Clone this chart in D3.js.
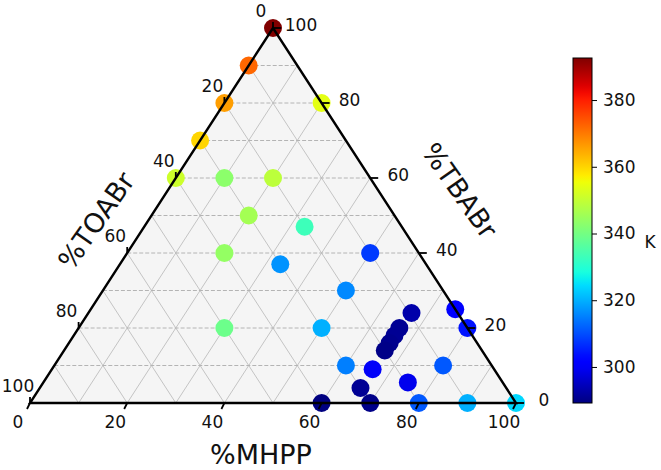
<!DOCTYPE html>
<html><head><meta charset="utf-8">
<script src="https://cdn.jsdelivr.net/npm/d3@7"></script>
<style>body{margin:0;background:#fff}svg{display:block}text{font-family:"DejaVu Sans",sans-serif;fill:#111}</style>
</head><body><svg id="c" width="661" height="470"></svg>
<script>
// ---- data ----
const mhpp  = [0,0,0,0,0,10,20,20,20,33,20,33,50,50,30,50,60,60,70,66,66,75,80,90,100,80,75,80,66.5,66,66,66,66];
const tbabr = [100,90,80,70,60,60,60,50,80,47,40,37,40,30,20,20,10,0,0,4,9,5.5,0,0,0,10,25,20,24,20,18,16,14];
const toabr = [0,10,20,30,40,30,20,30,0,20,40,30,10,20,50,30,30,40,30,30,25,19.5,20,10,0,10,0,0,9.5,14,16,18,20];
const temps = [392.6,372,366,360,351,343,349,346,354,333,344,317,308,316,339,320,315,289.2,290,291,300,299,311,320,324,311,301,304,293,291,291,290.5,290];
const axisTicks = [0,20,40,60,80,100];
const cbTicks = [300,320,340,360,380];
const cbDomain = [289.2, 392.6];

// ---- layout ----
const svg = d3.select("#c");
const xL=30, xR=516, yB=403, yT=28;
const xs = d3.scaleLinear().domain([0,100]).range([xL,xR]);
const ys = d3.scaleLinear().domain([0,100]).range([yB,yT]);
const P = (a,b)=>[xs(a+b/2), ys(b)];

// jet colormap
const jr = d3.scaleLinear().domain([0,0.35,0.66,0.89,1]).range([0,0,1,1,0.5]).clamp(true);
const jg = d3.scaleLinear().domain([0,0.125,0.375,0.64,0.91,1]).range([0,0,1,1,0,0]).clamp(true);
const jb = d3.scaleLinear().domain([0,0.11,0.34,0.65,1]).range([0.5,1,1,0,0]).clamp(true);
const norm = d3.scaleLinear().domain(cbDomain).range([0,1]).clamp(true);
const jet = t => d3.rgb(jr(t)*255, jg(t)*255, jb(t)*255).formatHex();
const color = v => jet(norm(v));

// triangle background
const tri = [P(0,0),P(100,0),P(0,100)];
svg.append("polygon").attr("points",tri.map(p=>p.join(",")).join(" ")).attr("fill","#f5f5f5");

// grid
const g = svg.append("g");
const line = (p,q)=>g.append("line").attr("x1",p[0]).attr("y1",p[1]).attr("x2",q[0]).attr("y2",q[1]);
for(let v=10; v<100; v+=10){
  line(P(v,0),P(v,100-v)).attr("stroke","#c4c4c4").attr("stroke-width",1);
  line(P(100-v,0),P(0,100-v)).attr("stroke","#c4c4c4").attr("stroke-width",1);
}
for(let v=10; v<100; v+=10){
  line(P(0,v),P(100-v,v)).attr("stroke","#b4b4b4").attr("stroke-width",1).attr("stroke-dasharray","4,2");
}

// points
svg.append("g").selectAll("circle").data(temps.map((t,i)=>({a:mhpp[i],b:tbabr[i],c:toabr[i],t})))
  .join("circle")
  .attr("cx",d=>P(d.a,d.b)[0]).attr("cy",d=>P(d.a,d.b)[1]).attr("r",9)
  .attr("fill",d=>color(d.t));

// triangle border
svg.append("polygon").attr("points",tri.map(p=>p.join(",")).join(" "))
  .attr("fill","none").attr("stroke","#000").attr("stroke-width",2.4).attr("stroke-linejoin","miter");

// ticks
const ax = svg.append("g");
axisTicks.forEach(v=>{
  // bottom: MHPP
  let p=P(v,0);
  ax.append("line").attr("x1",p[0]).attr("y1",p[1]).attr("x2",p[0]-3).attr("y2",p[1]+6).attr("stroke","#000").attr("stroke-width",1.8);
  ax.append("text").attr("x",p[0]-12).attr("y",p[1]+25).attr("text-anchor","middle").attr("font-size",17).text(v);
  // right: TBABr
  p=P(100-v,v);
  ax.append("line").attr("x1",p[0]).attr("y1",p[1]).attr("x2",p[0]+8).attr("y2",p[1]).attr("stroke","#000").attr("stroke-width",1.8);
  ax.append("text").attr("x",p[0]+28).attr("y",p[1]+3).attr("text-anchor","middle").attr("font-size",17).text(v);
  // left: TOABr
  p=P(0,100-v);
  ax.append("line").attr("x1",p[0]).attr("y1",p[1]).attr("x2",p[0]).attr("y2",p[1]-6).attr("stroke","#000").attr("stroke-width",1.8);
  ax.append("text").attr("x",p[0]-12).attr("y",p[1]-11).attr("text-anchor","middle").attr("font-size",17).text(v);
});

// axis titles
svg.append("text").attr("x",261).attr("y",464).attr("text-anchor","middle").attr("font-size",27).text("%MHPP");
svg.append("text").attr("transform","translate(104,226) rotate(-55)").attr("text-anchor","middle").attr("font-size",27).text("%TOABr");
svg.append("text").attr("transform","translate(452,196) rotate(55)").attr("text-anchor","middle").attr("font-size",27).text("%TBABr");

// colorbar
const cbX=573, cbW=19, cbTop=58, cbBot=403;
const cs = d3.scaleLinear().domain(cbDomain).range([cbBot,cbTop]);
const defs = svg.append("defs");
const grad = defs.append("linearGradient").attr("id","jet").attr("x1",0).attr("y1",1).attr("x2",0).attr("y2",0);
d3.range(0,1.0001,0.02).forEach(t=>grad.append("stop").attr("offset",t).attr("stop-color",jet(t)));
svg.append("rect").attr("x",cbX).attr("y",cbTop).attr("width",cbW).attr("height",cbBot-cbTop).attr("fill","url(#jet)").attr("stroke","#000").attr("stroke-width",1);
const cax = svg.append("g").attr("transform",`translate(${cbX+cbW},0)`).call(d3.axisRight(cs).tickValues(cbTicks).tickSize(5).tickPadding(6));
cax.select(".domain").remove();
cax.selectAll("text").attr("font-size",17).attr("font-family","DejaVu Sans").attr("fill","#111");
cax.selectAll("line").attr("stroke","#000");
svg.append("text").attr("x",650).attr("y",248).attr("text-anchor","middle").attr("font-size",17).text("K");
</script></body></html>
